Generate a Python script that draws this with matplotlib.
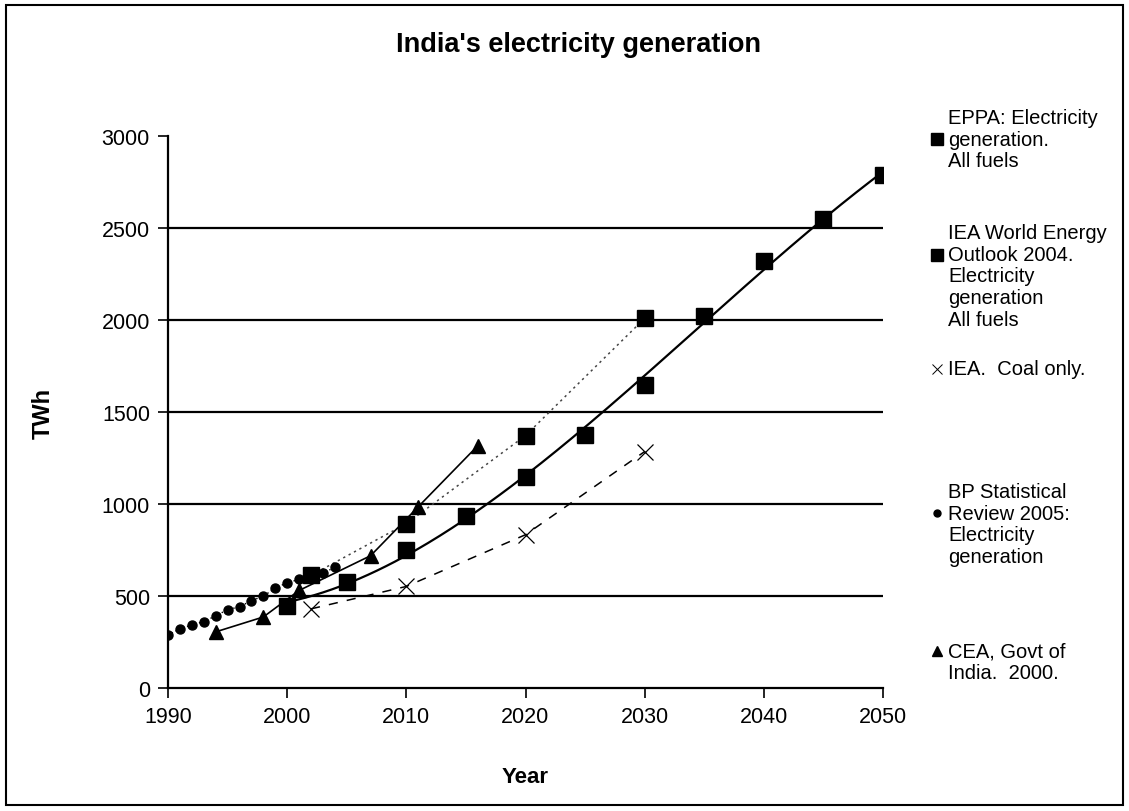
import numpy as np
import matplotlib
matplotlib.use("Agg")
import matplotlib.pyplot as plt
from matplotlib.lines import Line2D
from matplotlib.patches import Rectangle

plt.rcParams['font.family'] = ['Liberation Sans', 'DejaVu Sans']

# EPPA: electricity generation, all fuels
eppa_years = [2000, 2005, 2010, 2015, 2020, 2025, 2030, 2035, 2040, 2045, 2050]
eppa_twh = [446, 577, 751, 936, 1149, 1377, 1649, 2020, 2319, 2548, 2787]

# IEA World Energy Outlook 2004, all fuels
weo_years = [2002, 2010, 2020, 2030]
weo_twh = [612, 893, 1372, 2009]

# IEA coal only
coal_years = [2002, 2010, 2020, 2030]
coal_twh = [430, 552, 833, 1285]

# BP Statistical Review 2005
bp_years = [1990, 1991, 1992, 1993, 1994, 1995, 1996, 1997, 1998, 1999,
            2000, 2001, 2002, 2003, 2004]
bp_twh = [288, 321, 343, 361, 392, 426, 441, 475, 499, 543,
          572, 590, 605, 625, 655]

# CEA, Govt of India 2000
cea_years = [1994, 1998, 2001, 2007, 2011, 2016]
cea_twh = [305, 386, 530, 719, 985, 1317]

legend_labels = [
    "EPPA: Electricity\ngeneration.\nAll fuels",
    "IEA World Energy\nOutlook 2004.\nElectricity\ngeneration\nAll fuels",
    "IEA.  Coal only.",
    "BP Statistical\nReview 2005:\nElectricity\ngeneration",
    "CEA, Govt of\nIndia.  2000.",
]

W, H = 1129, 812
fig = plt.figure(figsize=(W / 100, H / 100), dpi=100)
ax = fig.add_axes([168 / W, 1 - 689 / H, (883 - 168) / W, (689 - 137) / H])

# trendline for EPPA (Excel style polynomial)
coef = np.polyfit(eppa_years, eppa_twh, 3)
tx = np.linspace(eppa_years[0], eppa_years[-1], 200)
ax.plot(tx, np.polyval(coef, tx), color='black', lw=1.6, zorder=3)
ax.plot(eppa_years, eppa_twh, 's', color='black', ms=12, zorder=4)

ax.plot(weo_years, weo_twh, color='#444444', lw=1.1, ls=(0, (1.5, 2.5)), zorder=3)
ax.plot(weo_years, weo_twh, 's', color='black', ms=12, zorder=4)

ax.plot(coal_years, coal_twh, color='black', lw=1.1, ls=(0, (6, 6)),
        marker='x', ms=11, mew=0.9, zorder=3)

ax.plot(bp_years, bp_twh, color='black', lw=1.0, ls=(0, (1, 2)),
        marker='o', ms=6.5, zorder=4)

ax.plot(cea_years, cea_twh, color='black', lw=1.2, marker='^', ms=10, zorder=4)

ax.set_xlim(1990, 2050)
ax.set_ylim(0, 3000)
ax.set_xticks(range(1990, 2051, 10))
ax.set_yticks(range(0, 3001, 500))

for yv in range(500, 3000, 500):
    ax.axhline(yv, color='black', lw=1.6, zorder=1)

for s in ['top', 'right']:
    ax.spines[s].set_visible(False)
for s in ['left', 'bottom']:
    ax.spines[s].set_linewidth(1.6)
ax.tick_params(axis='both', direction='out', length=7, width=1.2,
               labelsize=15.5, pad=6)

ax.set_xlabel("Year", fontsize=16, fontweight='bold', labelpad=28)
ax.set_ylabel("TWh", fontsize=17, fontweight='bold', labelpad=34)
fig.text(578 / W, 1 - 45 / H, "India's electricity generation",
         fontsize=19.5, fontweight='bold', ha='center', va='center')

# legend placed at the right like the Excel original
text_centers = [140, 277, 370, 525, 663]
marker_ys = [140, 256, 370, 514, 652]
handles = [dict(marker='s', ms=9), dict(marker='s', ms=9),
           dict(marker='x', ms=7, mew=0.7), dict(marker='o', ms=5),
           dict(marker='^', ms=7)]
for lab, tc, my, h in zip(legend_labels, text_centers, marker_ys, handles):
    fig.text(948 / W, 1 - tc / H, lab, fontsize=14.5, ha='left', va='center',
             linespacing=1.17)
    fig.add_artist(Line2D([937 / W], [1 - my / H], transform=fig.transFigure,
                          color='black', ls='none', **h))

fig.add_artist(Rectangle((6 / W, 6 / H), (W - 12) / W, (H - 12) / H,
                         transform=fig.transFigure, fill=False,
                         edgecolor='black', lw=1.5))

fig.savefig('out.png', dpi=100)
